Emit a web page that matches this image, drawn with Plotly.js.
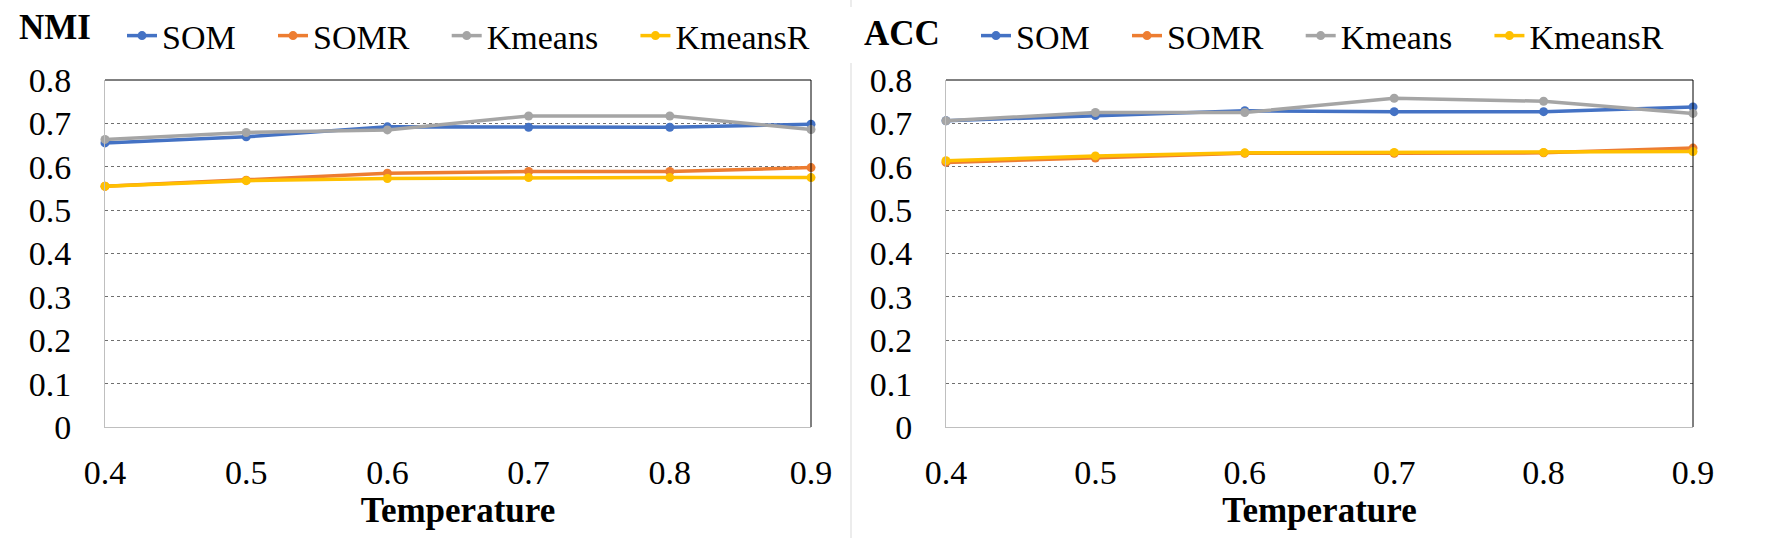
<!DOCTYPE html>
<html>
<head>
<meta charset="utf-8">
<script src="https://cdn.plot.ly/plotly-3.0.1.min.js"></script>
<style>html,body{margin:0;padding:0;background:#fff;}#chart{width:1774px;height:538px;}</style>
</head>
<body>
<div id="chart"></div>
<script>
const temperature = [0.4, 0.5, 0.6, 0.7, 0.8, 0.9];
const xTickLabels = ['0.4', '0.5', '0.6', '0.7', '0.8', '0.9'];
const yTickVals = [0, 0.1, 0.2, 0.3, 0.4, 0.5, 0.6, 0.7, 0.8];
const yTickLabels = ['0', '0.1', '0.2', '0.3', '0.4', '0.5', '0.6', '0.7', '0.8'];
const seriesNames = ['SOM', 'SOMR', 'Kmeans', 'KmeansR'];

const nmiSOM     = [0.655, 0.669, 0.692, 0.691, 0.691, 0.698];
const nmiSOMR    = [0.555, 0.569, 0.585, 0.589, 0.589, 0.598];
const nmiKmeans  = [0.663, 0.679, 0.685, 0.717, 0.717, 0.686];
const nmiKmeansR = [0.555, 0.568, 0.573, 0.575, 0.575, 0.575];

const accSOM     = [0.706, 0.718, 0.729, 0.727, 0.727, 0.738];
const accSOMR    = [0.610, 0.620, 0.631, 0.631, 0.632, 0.643];
const accKmeans  = [0.706, 0.725, 0.725, 0.758, 0.751, 0.723];
const accKmeansR = [0.614, 0.625, 0.632, 0.633, 0.633, 0.635];

const colors = ['#4472C4', '#ED7D31', '#A5A5A5', '#FFC000'];
const FONT = '"Liberation Serif", "Times New Roman", Times, serif';
const GAP = '\u00a0\u00a0\u00a0\u2009';

const nmiData = [nmiSOM, nmiSOMR, nmiKmeans, nmiKmeansR];
const accData = [accSOM, accSOMR, accKmeans, accKmeansR];

const traces = [];
nmiData.forEach((ys, i) => traces.push({
  x: temperature, y: ys, name: seriesNames[i] + GAP, type: 'scatter', mode: 'lines+markers',
  line: {color: colors[i], width: 3.5}, marker: {color: colors[i], size: 9},
  xaxis: 'x', yaxis: 'y', legend: 'legend', cliponaxis: false
}));
accData.forEach((ys, i) => traces.push({
  x: temperature, y: ys, name: seriesNames[i] + GAP, type: 'scatter', mode: 'lines+markers',
  line: {color: colors[i], width: 3.5}, marker: {color: colors[i], size: 9},
  xaxis: 'x2', yaxis: 'y2', legend: 'legend2', cliponaxis: false
}));

const W = 1774, H = 538;
const fx = v => v / W;
const fy = v => (H - v) / H;

function xAxis(d0, d1, anchor) {
  return {
    domain: [fx(d0), fx(d1)], anchor: anchor, range: [0.4, 0.9],
    tickvals: temperature, ticktext: xTickLabels,
    showgrid: false, zeroline: false, showline: true, linecolor: '#BFBFBF', linewidth: 1,
    ticks: 'outside', ticklen: 15, tickcolor: 'rgba(0,0,0,0)',
    tickfont: {family: FONT, size: 34, color: '#000'},
    title: {text: '<b>Temperature</b>', font: {family: FONT, size: 35, color: '#000'}, standoff: 0},
    fixedrange: true
  };
}
function yAxis(anchor) {
  return {
    domain: [fy(427), fy(80)], anchor: anchor, range: [0, 0.8],
    tickvals: yTickVals, ticktext: yTickLabels,
    showgrid: true, gridcolor: '#6F6F6F', griddash: 'dot', gridwidth: 1,
    zeroline: false, showline: true, linecolor: '#BFBFBF', linewidth: 1,
    ticks: 'outside', ticklen: 26, tickcolor: 'rgba(0,0,0,0)',
    tickfont: {family: FONT, size: 34, color: '#000'}, fixedrange: true
  };
}

const legendCommon = {
  orientation: 'h', xanchor: 'left', yanchor: 'middle', y: fy(36),
  font: {family: FONT, size: 34, color: '#000'}, bgcolor: 'rgba(0,0,0,0)',
  borderwidth: 0, tracegroupgap: 0
};

const borderLine = {color: '#000', width: 1};
const layout = {
  width: W, height: H, margin: {l: 0, r: 0, t: 0, b: 0},
  paper_bgcolor: '#fff', plot_bgcolor: '#fff', showlegend: true,
  font: {family: FONT, color: '#000'},
  xaxis: xAxis(105, 811, 'y'), yaxis: yAxis('x'),
  xaxis2: xAxis(946, 1693, 'y2'), yaxis2: yAxis('x2'),
  legend: Object.assign({}, legendCommon, {x: fx(122)}),
  legend2: Object.assign({}, legendCommon, {x: fx(976)}),
  annotations: [
    {text: '<b>NMI</b>', xref: 'paper', yref: 'paper', x: fx(17), y: fy(28), xanchor: 'left', yanchor: 'middle',
     showarrow: false, font: {family: FONT, size: 35, color: '#000'}},
    {text: '<b>ACC</b>', xref: 'paper', yref: 'paper', x: fx(862), y: fy(34), xanchor: 'left', yanchor: 'middle',
     showarrow: false, font: {family: FONT, size: 35, color: '#000'}}
  ],
  shapes: [
    {type: 'line', xref: 'x domain', yref: 'y domain', x0: 0, x1: 1, y0: 1, y1: 1, line: borderLine},
    {type: 'line', xref: 'x domain', yref: 'y domain', x0: 1, x1: 1, y0: 0, y1: 1, line: borderLine},
    {type: 'line', xref: 'x2 domain', yref: 'y2 domain', x0: 0, x1: 1, y0: 1, y1: 1, line: borderLine},
    {type: 'line', xref: 'x2 domain', yref: 'y2 domain', x0: 1, x1: 1, y0: 0, y1: 1, line: borderLine},
    {type: 'line', xref: 'paper', yref: 'paper', x0: fx(851), x1: fx(851), y0: fy(0), y1: fy(7), line: {color: '#D9D9D9', width: 1}},
    {type: 'line', xref: 'paper', yref: 'paper', x0: fx(851), x1: fx(851), y0: fy(63), y1: fy(538), line: {color: '#D9D9D9', width: 1}}
  ]
};

Plotly.newPlot('chart', traces, layout, {displayModeBar: false, staticPlot: true});
</script>
</body>
</html>
